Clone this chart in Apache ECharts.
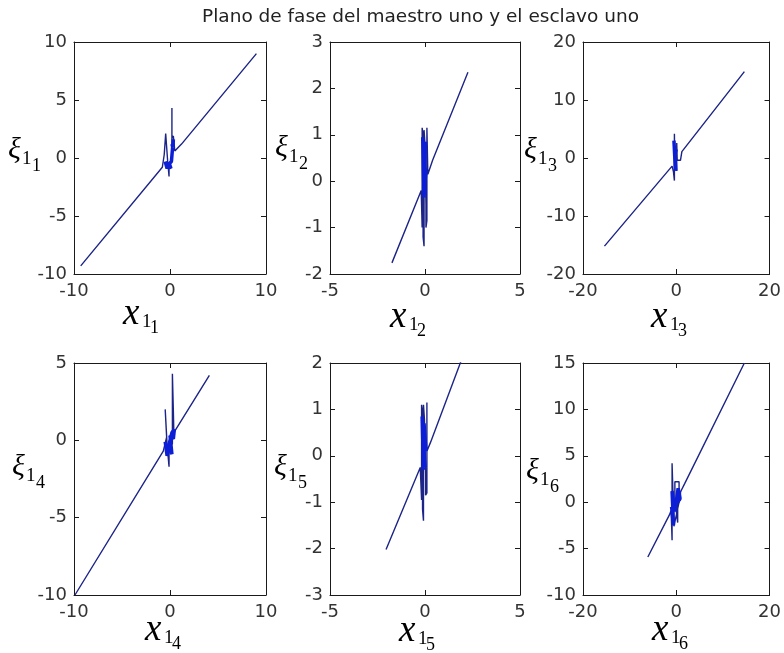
<!DOCTYPE html>
<html>
<head>
<meta charset="utf-8">
<script src="https://cdn.jsdelivr.net/npm/echarts@6/dist/echarts.min.js"></script>
<style>
  html, body { margin: 0; padding: 0; background: #fff; }
  #chart { width: 784px; height: 653px; }
</style>
</head>
<body>
<div id="chart"></div>
<script>
// Plano de fase: estado del maestro (x) frente al del esclavo (ξ), seis componentes.

// Componente 1
const x1  = [9.0, 1.2, 0.5, 0.35, 0.35, 0.2, 0.2, 0.2, 0.0, -0.1, -0.1, -0.25, -0.45, -0.45, -0.6, -0.6, -0.8, -9.3];
const xi1 = [9.0, 1.2, 0.6, 0.5, 1.9, 1.7, 4.3, -0.1, -0.4, -0.6, -1.6, -0.2, -0.1, 2.1, 2.0, 0.3, -0.8, -9.3];
const x1b  = [-0.5, -0.3, -0.1, 0.1, -0.2, 0.15, 0.25, 0.35, 0.3, 0.2];
const xi1b = [-0.3, -0.9, -0.4, -0.9, -0.6, -0.3, 0.7, 1.6, 0.9, 1.2];

// Componente 2
const x2  = [2.26, 0.4, 0.15, 0.1, 0.1, 0.05, 0.05, 0.0, -0.05, -0.05, -0.1, -0.1, -0.15, -0.15, -0.2, -1.74];
const xi2 = [2.35, 0.45, 0.15, 1.15, -0.85, -1.0, -0.5, 0.8, 1.1, -1.4, -1.2, 1.0, 1.15, -1.0, -0.2, -1.76];
const x2b  = [-0.12, -0.05, -0.1, 0.0, -0.08, 0.05, -0.03, 0.02];
const xi2b = [0.95, -0.35, 0.7, -0.3, 0.4, 0.2, -0.1, 0.85];

// Componente 3
const x3  = [14.6, 1.2, 0.9, 0.9, 0.2, 0.1, 0.1, -0.3, -0.4, -0.4, -0.6, -0.9, -1.2, -15.4];
const xi3 = [14.9, 1.1, 0.9, -0.4, -0.4, 2.6, -2.2, -1.6, 4.2, -3.9, -2.4, -1.4, -1.3, -15.2];
const x3b  = [-0.5, -0.2, -0.45, -0.1, -0.35, 0.0];
const xi3b = [3.0, -1.8, 2.2, -2.2, 0.5, 1.5];

// Componente 4
const x4  = [4.1, 0.4, 0.35, 0.35, 0.25, 0.25, 0.25, 0.05, -0.1, -0.1, -0.3, -0.5, -0.5, -0.35, -0.35, -0.7, -9.9];
const xi4 = [4.2, 0.5, 0.6, 1.9, 1.8, 4.3, -0.2, -0.4, -0.6, -1.7, -0.3, -0.2, 2.0, 2.0, 0.2, -0.7, -10.0];
const x4b  = [-0.5, -0.3, -0.05, 0.2, 0.0, 0.35, 0.45, 0.2, -0.2];
const xi4b = [-0.1, -1.0, -0.3, -0.9, 0.3, 0.1, 0.7, 0.5, -0.5];

// Componente 5
const x5  = [1.95, 0.3, 0.1, 0.1, 0.1, 0.03, 0.03, -0.03, -0.08, -0.08, -0.13, -0.13, -0.18, -0.18, -0.25, -2.05];
const xi5 = [2.1, 0.3, 0.1, 1.15, -0.8, -0.85, -0.4, 0.8, 1.1, -1.4, -1.15, 0.95, 1.1, -0.95, -0.25, -2.02];
const x5b  = [-0.15, -0.08, -0.12, 0.0, -0.1, 0.05, -0.05];
const xi5b = [0.85, -0.3, 0.6, -0.25, 0.3, 0.1, 0.7];

// Componente 6
const x6  = [14.6, 1.8, 0.9, 0.9, 0.3, 0.3, -0.3, -0.3, 0.6, 0.6, -0.5, -0.9, -0.9, -1.1, -1.5, -6.1];
const xi6 = [15.0, 2.0, 1.1, 0.2, 0.2, -2.2, 0.3, 2.2, 2.2, 0.0, -2.6, 4.2, -4.1, -0.9, -1.4, -5.9];
const x6b  = [-1.0, -0.6, -0.9, -0.3, 0.4, 0.8, 0.3, 0.7];
const xi6b = [-0.5, -2.5, 1.2, -1.0, 1.5, 0.4, 0.0, 1.2];

// Límites de los ejes: [mín, máx, paso]
const xLimits = [[-10, 10, 10], [-5, 5, 5], [-20, 20, 20], [-10, 10, 10], [-5, 5, 5], [-20, 20, 20]];
const yLimits = [[-10, 10, 5], [-2, 3, 1], [-20, 20, 10], [-10, 5, 5], [-3, 2, 1], [-10, 15, 5]];

const subIndex = ['1', '2', '3', '4', '5', '6'];
const titleText = 'Plano de fase del maestro uno y el esclavo uno';

// ---- disposición ----
const mainX = [x1, x2, x3, x4, x5, x6];
const mainY = [xi1, xi2, xi3, xi4, xi5, xi6];
const blobX = [x1b, x2b, x3b, x4b, x5b, x6b];
const blobY = [xi1b, xi2b, xi3b, xi4b, xi5b, xi6b];

const colLeft = [74, 330, 583];
const colWidth = [192, 190, 191];
const rowTop = [42, 363];
const boxHeight = 232;

const inkColor = '#1a1a1a';
const tickFont = { color: '#333', fontFamily: 'DejaVu Sans', fontSize: 18 };

const pairs = (xs, ys) => xs.map((v, k) => [v, ys[k]]);

const grid = [], xAxis = [], yAxis = [], series = [];

for (let i = 0; i < 6; i++) {
  const c = i % 3, r = Math.floor(i / 3);
  grid.push({ left: colLeft[c], top: rowTop[r], width: colWidth[c], height: boxHeight, containLabel: false });

  const base = (lim) => ({
    gridIndex: i, type: 'value', min: lim[0], max: lim[1], interval: lim[2],
    axisLine: { show: true, onZero: false, lineStyle: { color: inkColor, width: 1 } },
    axisTick: { show: true, inside: true, length: 5, lineStyle: { color: inkColor, width: 1 } },
    splitLine: { show: false }
  });

  xAxis.push(Object.assign(base(xLimits[i]), {
    position: 'bottom',
    axisLabel: Object.assign({ show: true, margin: 8, showMinLabel: true, showMaxLabel: true }, tickFont)
  }));
  xAxis.push(Object.assign(base(xLimits[i]), { position: 'top', axisLabel: { show: false } }));

  yAxis.push(Object.assign(base(yLimits[i]), {
    position: 'left',
    axisLabel: Object.assign({ show: true, margin: 7, showMinLabel: true, showMaxLabel: true }, tickFont)
  }));
  yAxis.push(Object.assign(base(yLimits[i]), { position: 'right', axisLabel: { show: false } }));

  series.push({
    type: 'line', xAxisIndex: 2 * i, yAxisIndex: 2 * i,
    data: pairs(mainX[i], mainY[i]),
    showSymbol: false, symbol: 'none', clip: true, silent: true,
    lineStyle: { color: '#1c2488', width: 1.4 }
  });
  series.push({
    type: 'line', xAxisIndex: 2 * i, yAxisIndex: 2 * i,
    data: pairs(blobX[i], blobY[i]),
    showSymbol: false, symbol: 'none', clip: true, silent: true,
    lineStyle: { color: '#0c1fd6', width: 3.5 }
  });
}

// Etiquetas matemáticas: ξ_{1_k} (vertical) y x_{1_k} (horizontal)
const xiAnchor = [[8, 150], [275, 148], [524, 150], [12, 467], [274, 467], [526, 471]];
const xAnchor  = [[123, 314], [390, 317], [651, 317], [145, 630], [399, 631], [652, 630]];

const mathFont = '"Liberation Serif"';

function textEl(str, x, y, font) {
  return {
    type: 'text', x: x, y: y, silent: true,
    style: {
      text: str, fill: '#000', font: font,
      textAlign: 'left', textVerticalAlign: 'middle',
      align: 'left', verticalAlign: 'middle'
    }
  };
}

const graphic = [];
for (let i = 0; i < 6; i++) {
  const [ax, ay] = xiAnchor[i];
  graphic.push(textEl('ξ', ax, ay, 'italic 30px ' + mathFont));
  graphic.push(textEl('1', ax + 14, ay + 9, '19px ' + mathFont));
  graphic.push(textEl(subIndex[i], ax + 24, ay + 16, '18px ' + mathFont));

  const [bx, by] = xAnchor[i];
  graphic.push(textEl('x', bx, by, 'italic 37px ' + mathFont));
  graphic.push(textEl('1', bx + 19, by + 8, '19px ' + mathFont));
  graphic.push(textEl(subIndex[i], bx + 27, by + 14, '18px ' + mathFont));
}

graphic.push({
  type: 'text', x: 420.5, y: 17.5, silent: true,
  style: {
    text: titleText, fill: '#222', font: '18.5px "DejaVu Sans"',
    textAlign: 'center', textVerticalAlign: 'middle',
    align: 'center', verticalAlign: 'middle'
  }
});

const chart = echarts.init(document.getElementById('chart'), null, { renderer: 'canvas' });
chart.setOption({
  animation: false,
  backgroundColor: '#ffffff',
  grid: grid,
  xAxis: xAxis,
  yAxis: yAxis,
  series: series,
  graphic: graphic
});
</script>
</body>
</html>
